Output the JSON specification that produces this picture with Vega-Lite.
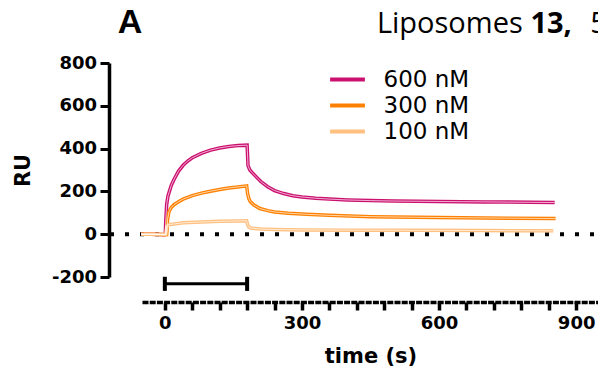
{
  "$schema": "https://vega.github.io/schema/vega-lite/v6.json",
  "width": 457,
  "height": 214,
  "autosize": {"type": "none"},
  "padding": {"left": 142, "top": 63, "right": 0, "bottom": 95},
  "background": "white",
  "config": {
    "view": {"stroke": null},
    "axis": {
      "grid": false,
      "labelFont": "DejaVu Sans",
      "labelFontWeight": "bold",
      "labelFontSize": 18,
      "labelColor": "#000",
      "titleFont": "DejaVu Sans",
      "titleFontWeight": "bold",
      "titleFontSize": 21,
      "titleColor": "#000",
      "domainColor": "#000",
      "tickColor": "#000",
      "domainWidth": 3.5,
      "tickWidth": 3
    }
  },
  "datasets": {
    "sensor": [
      {"t": -52, "ru": 0, "c": "600 nM"}, {"t": -30, "ru": 0, "c": "600 nM"}, {"t": -10, "ru": -1, "c": "600 nM"}, {"t": 0, "ru": -2, "c": "600 nM"},
      {"t": 1, "ru": 0, "c": "600 nM"}, {"t": 2, "ru": 60, "c": "600 nM"}, {"t": 4, "ru": 140, "c": "600 nM"}, {"t": 7, "ru": 180, "c": "600 nM"},
      {"t": 10, "ru": 200, "c": "600 nM"}, {"t": 14, "ru": 228, "c": "600 nM"}, {"t": 20, "ru": 256, "c": "600 nM"}, {"t": 30, "ru": 295, "c": "600 nM"},
      {"t": 40, "ru": 322, "c": "600 nM"}, {"t": 50, "ru": 342, "c": "600 nM"}, {"t": 60, "ru": 357, "c": "600 nM"}, {"t": 80, "ru": 378, "c": "600 nM"},
      {"t": 100, "ru": 393, "c": "600 nM"}, {"t": 120, "ru": 403, "c": "600 nM"}, {"t": 140, "ru": 410, "c": "600 nM"}, {"t": 160, "ru": 414, "c": "600 nM"},
      {"t": 180, "ru": 416, "c": "600 nM"}, {"t": 182, "ru": 320, "c": "600 nM"}, {"t": 186, "ru": 300, "c": "600 nM"}, {"t": 190, "ru": 290, "c": "600 nM"},
      {"t": 200, "ru": 268, "c": "600 nM"}, {"t": 210, "ru": 246, "c": "600 nM"}, {"t": 225, "ru": 222, "c": "600 nM"}, {"t": 240, "ru": 204, "c": "600 nM"},
      {"t": 260, "ru": 190, "c": "600 nM"}, {"t": 280, "ru": 180, "c": "600 nM"}, {"t": 300, "ru": 174, "c": "600 nM"}, {"t": 330, "ru": 168, "c": "600 nM"},
      {"t": 360, "ru": 164, "c": "600 nM"}, {"t": 400, "ru": 160, "c": "600 nM"}, {"t": 450, "ru": 157, "c": "600 nM"}, {"t": 500, "ru": 155, "c": "600 nM"},
      {"t": 550, "ru": 154, "c": "600 nM"}, {"t": 600, "ru": 153, "c": "600 nM"}, {"t": 650, "ru": 152, "c": "600 nM"}, {"t": 700, "ru": 151, "c": "600 nM"},
      {"t": 750, "ru": 150, "c": "600 nM"}, {"t": 800, "ru": 149, "c": "600 nM"}, {"t": 853, "ru": 148, "c": "600 nM"},

      {"t": -52, "ru": 0, "c": "300 nM"}, {"t": -30, "ru": 0, "c": "300 nM"}, {"t": -10, "ru": -1, "c": "300 nM"}, {"t": 0, "ru": -3, "c": "300 nM"},
      {"t": 4, "ru": -2, "c": "300 nM"}, {"t": 6, "ru": 70, "c": "300 nM"}, {"t": 9, "ru": 105, "c": "300 nM"}, {"t": 14, "ru": 125, "c": "300 nM"},
      {"t": 20, "ru": 138, "c": "300 nM"}, {"t": 30, "ru": 152, "c": "300 nM"}, {"t": 40, "ru": 164, "c": "300 nM"}, {"t": 60, "ru": 180, "c": "300 nM"},
      {"t": 80, "ru": 192, "c": "300 nM"}, {"t": 100, "ru": 201, "c": "300 nM"}, {"t": 120, "ru": 209, "c": "300 nM"}, {"t": 140, "ru": 216, "c": "300 nM"},
      {"t": 160, "ru": 221, "c": "300 nM"}, {"t": 179, "ru": 226, "c": "300 nM"}, {"t": 181, "ru": 190, "c": "300 nM"}, {"t": 184, "ru": 165, "c": "300 nM"},
      {"t": 187, "ru": 152, "c": "300 nM"}, {"t": 195, "ru": 136, "c": "300 nM"}, {"t": 208, "ru": 120, "c": "300 nM"}, {"t": 225, "ru": 110, "c": "300 nM"},
      {"t": 240, "ru": 104, "c": "300 nM"}, {"t": 270, "ru": 98, "c": "300 nM"}, {"t": 310, "ru": 93, "c": "300 nM"}, {"t": 360, "ru": 88, "c": "300 nM"},
      {"t": 450, "ru": 82, "c": "300 nM"}, {"t": 550, "ru": 79, "c": "300 nM"}, {"t": 650, "ru": 77, "c": "300 nM"}, {"t": 750, "ru": 75, "c": "300 nM"},
      {"t": 855, "ru": 73, "c": "300 nM"},

      {"t": -52, "ru": 0, "c": "100 nM"}, {"t": -30, "ru": 0, "c": "100 nM"}, {"t": 0, "ru": -1, "c": "100 nM"}, {"t": 2, "ru": 0, "c": "100 nM"},
      {"t": 4, "ru": 35, "c": "100 nM"}, {"t": 8, "ru": 44, "c": "100 nM"}, {"t": 20, "ru": 48, "c": "100 nM"}, {"t": 40, "ru": 53, "c": "100 nM"},
      {"t": 80, "ru": 57, "c": "100 nM"}, {"t": 120, "ru": 60, "c": "100 nM"}, {"t": 160, "ru": 62, "c": "100 nM"}, {"t": 179, "ru": 63, "c": "100 nM"},
      {"t": 181, "ru": 45, "c": "100 nM"}, {"t": 184, "ru": 33, "c": "100 nM"}, {"t": 190, "ru": 28, "c": "100 nM"}, {"t": 210, "ru": 24, "c": "100 nM"},
      {"t": 240, "ru": 22, "c": "100 nM"}, {"t": 300, "ru": 20, "c": "100 nM"}, {"t": 400, "ru": 19, "c": "100 nM"}, {"t": 550, "ru": 18, "c": "100 nM"},
      {"t": 700, "ru": 17, "c": "100 nM"}, {"t": 850, "ru": 16, "c": "100 nM"}
    ],
    "zero": [{"t": -120, "t2": 950, "ru": 0}],
    "inj": [{"t": 0, "t2": 180, "ru": -232}],
    "caps": [{"t": 0, "ru": -199, "ru2": -265}, {"t": 180, "ru": -199, "ru2": -265}],
    "panel": [{"t": -103, "ru": 938, "text": "A"}],
    "titleNormal": [{"t": 464, "ru": 938, "text": "Liposomes"}, {"t": 931, "ru": 938, "text": "5 mol%"}],
    "titleBold": [{"t": 800, "ru": 938, "text": "13,"}]
  },
  "encoding": {
    "x": {
      "field": "t",
      "type": "quantitative",
      "scale": {"domain": [-50, 950], "nice": false, "zero": false},
      "axis": {
        "title": "time (s)",
        "values": [0, 60, 120, 180, 240, 300, 360, 420, 480, 540, 600, 660, 720, 780, 840, 900],
        "labelExpr": "datum.value % 300 === 0 ? datum.label : ''",
        "labelOverlap": false,
        "offset": 25,
        "tickSize": 8,
        "tickWidth": 3.5,
        "labelPadding": 4,
        "titlePadding": 13,
        "domainDash": [6, 1.2]
      }
    },
    "y": {
      "field": "ru",
      "type": "quantitative",
      "scale": {"domain": [-200, 800], "nice": false, "zero": false},
      "axis": {
        "title": "RU",
        "values": [-200, 0, 200, 400, 600, 800],
        "labelExpr": "toString(datum.value)",
        "offset": 33,
        "tickSize": 9,
        "labelPadding": 3.5,
        "titlePadding": 18
      }
    }
  },
  "layer": [
    {
      "data": {"name": "zero"},
      "mark": {"type": "rule", "color": "#000", "strokeWidth": 4, "strokeDash": [4, 11]},
      "encoding": {"x2": {"field": "t2"}}
    },
    {
      "data": {"name": "inj"},
      "mark": {"type": "rule", "color": "#000", "strokeWidth": 3},
      "encoding": {"x2": {"field": "t2"}}
    },
    {
      "data": {"name": "caps"},
      "mark": {"type": "rule", "color": "#000", "strokeWidth": 4},
      "encoding": {"y2": {"field": "ru2"}}
    },
    {
      "data": {"name": "sensor"},
      "mark": {"type": "line", "strokeWidth": 3.5},
      "encoding": {
        "color": {
          "field": "c",
          "type": "nominal",
          "scale": {"domain": ["600 nM", "300 nM", "100 nM"], "range": ["#CC1070", "#FF8000", "#FFC080"]},
          "legend": {
            "title": null,
            "orient": "none",
            "legendX": 191.5,
            "legendY": 2.5,
            "padding": 0,
            "symbolType": "M-1.45,0H1.45",
            "symbolSize": 576,
            "symbolStrokeWidth": 4,
            "labelFont": "DejaVu Sans",
            "labelFontSize": 23,
            "labelColor": "#000",
            "labelOffset": 22,
            "rowPadding": -1.5
          }
        }
      }
    },
    {
      "data": {"name": "sensor"},
      "mark": {"type": "line", "stroke": "white", "strokeWidth": 0.9, "opacity": 0.75},
      "encoding": {"detail": {"field": "c", "type": "nominal"}}
    },
    {
      "data": {"name": "panel"},
      "mark": {"type": "text", "align": "left", "baseline": "alphabetic", "font": "Liberation Sans", "fontWeight": "bold", "fontSize": 34, "color": "#000"},
      "encoding": {"text": {"field": "text"}}
    },
    {
      "data": {"name": "titleNormal"},
      "mark": {"type": "text", "align": "left", "baseline": "alphabetic", "font": "Open Sans", "fontSize": 29, "color": "#000"},
      "encoding": {"text": {"field": "text"}}
    },
    {
      "data": {"name": "titleBold"},
      "mark": {"type": "text", "align": "left", "baseline": "alphabetic", "font": "Open Sans", "fontWeight": "bold", "fontSize": 29, "color": "#000"},
      "encoding": {"text": {"field": "text"}}
    }
  ]
}
